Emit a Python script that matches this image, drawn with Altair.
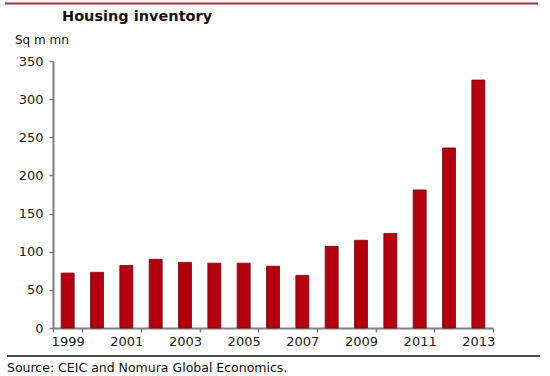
import altair as alt
import pandas as pd

years = ["1999", "2000", "2001", "2002", "2003", "2004", "2005", "2006",
         "2007", "2008", "2009", "2010", "2011", "2012", "2013"]
inventory = [72, 73, 82, 90, 86, 85, 85, 81, 69, 107, 115, 124, 181, 236, 325]
label_years = ["1999", "2001", "2003", "2005", "2007", "2009", "2011", "2013"]
y_ticks = [0, 50, 100, 150, 200, 250, 300, 350]

title_text = "Housing inventory"
unit_text = "Sq m mn"
source_text = "Source: CEIC and Nomura Global Economics."

df = pd.DataFrame({"year": years, "value": inventory})
one = pd.DataFrame({"k": [0]})

W, H = 440, 267
FONT = "DejaVu Sans"

bars = alt.Chart(df).mark_bar(
    size=13, color="#b3000e", stroke="#7e0008", strokeWidth=0.8
).encode(
    x=alt.X("year:O", sort=years,
            scale=alt.Scale(domain=years, paddingInner=0, paddingOuter=0),
            axis=alt.Axis(title=None, values=label_years, labelAngle=0,
                          tickBand="extent", tickSize=4, labelPadding=3)),
    y=alt.Y("value:Q", scale=alt.Scale(domain=[0, 350], nice=False),
            axis=alt.Axis(title=None, values=y_ticks, tickSize=4,
                          labelPadding=6)),
)

top_line = alt.Chart(one).mark_rule(color="#a3313c", strokeWidth=2).encode(
    x=alt.value(-48), x2=alt.value(485), y=alt.value(-57.5))
bottom_line = alt.Chart(one).mark_rule(color="#111111", strokeWidth=1.5).encode(
    x=alt.value(-46), x2=alt.value(487), y=alt.value(295))

title = alt.Chart(one).mark_text(
    align="left", baseline="alphabetic", font=FONT, fontSize=14.5,
    fontWeight="bold", color="#111111").encode(
    x=alt.value(9), y=alt.value(-40), text=alt.value(title_text))
unit = alt.Chart(one).mark_text(
    align="left", baseline="alphabetic", font=FONT, fontSize=12,
    color="#111111").encode(
    x=alt.value(-38), y=alt.value(-17), text=alt.value(unit_text))
source = alt.Chart(one).mark_text(
    align="left", baseline="alphabetic", font=FONT, fontSize=12.5,
    color="#111111").encode(
    x=alt.value(-46), y=alt.value(311), text=alt.value(source_text))

chart = alt.layer(bars, top_line, bottom_line, title, unit, source).properties(
    width=W, height=H,
    autosize=alt.AutoSizeParams(type="none"),
    padding={"left": 53, "top": 61, "right": 57, "bottom": 48},
).configure_view(stroke=None).configure_axis(
    domainColor="#7f7f7f", domainWidth=2, tickColor="#7f7f7f", tickWidth=1.5,
    labelFont=FONT, labelFontSize=13, labelColor="#222222", grid=False,
)

chart.save("out.html", embed_options={"renderer": "svg", "actions": False})
